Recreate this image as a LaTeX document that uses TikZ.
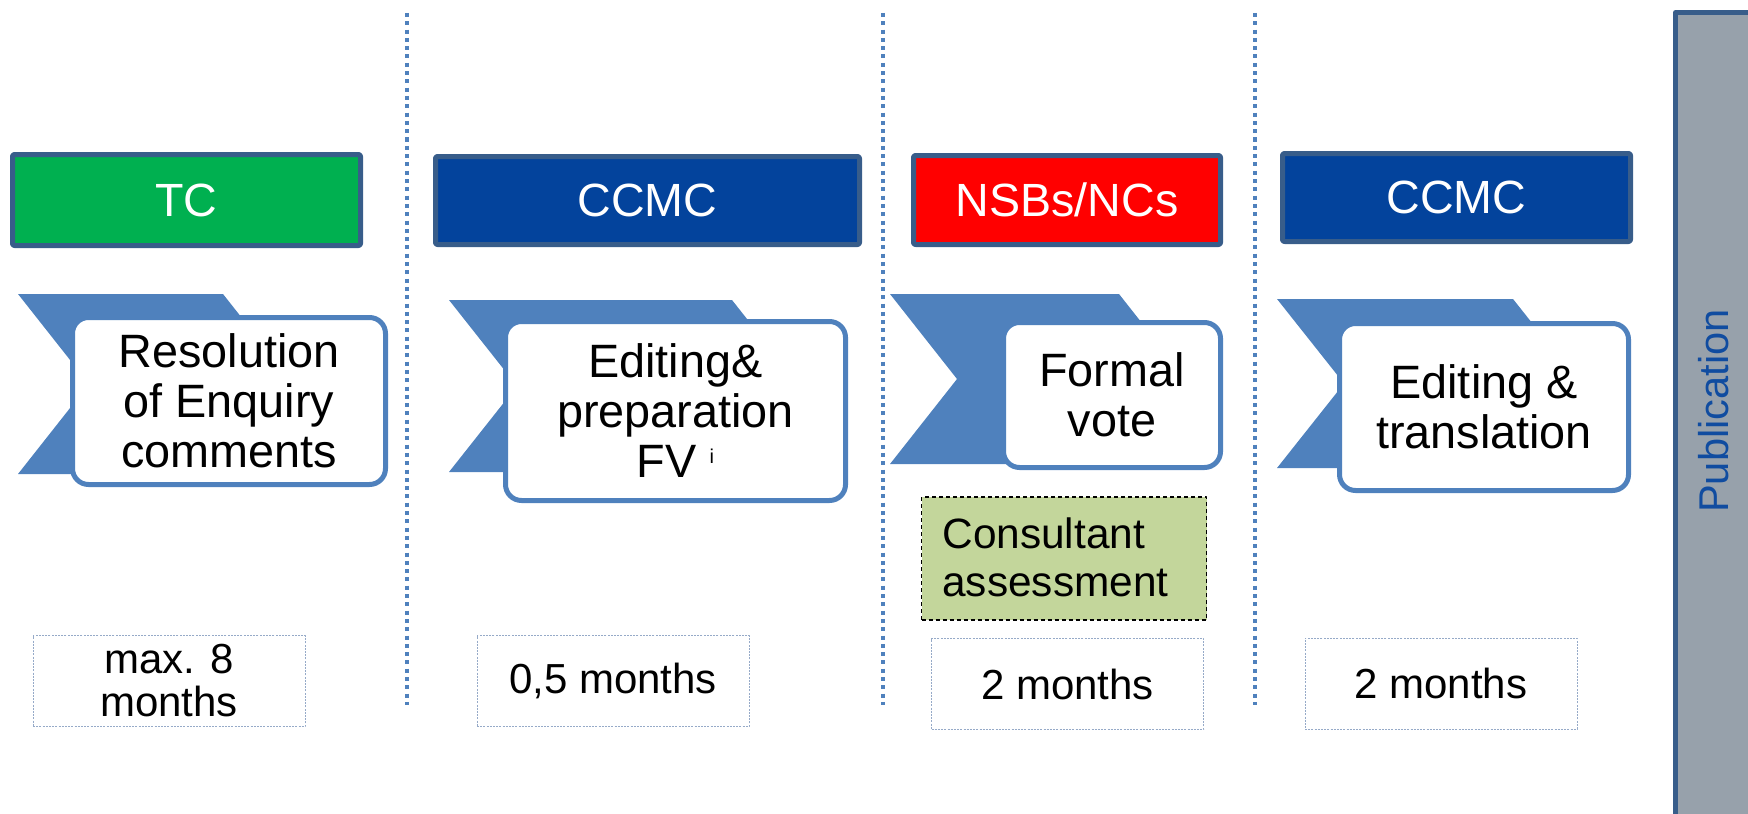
\documentclass[tikz,border=0pt]{standalone}
\usepackage{fontspec}
\setmainfont{Liberation Sans}
\definecolor{tcgreen}{RGB}{0,176,80}
\definecolor{ccmcblue}{RGB}{3,67,156}
\definecolor{nsbred}{RGB}{255,0,0}
\definecolor{hdrline}{RGB}{56,93,138}
\definecolor{chevblue}{RGB}{79,129,189}
\definecolor{consgreen}{RGB}{195,214,155}
\definecolor{pubgrey}{RGB}{151,161,171}
\definecolor{pubtext}{RGB}{16,76,160}
\definecolor{durline}{RGB}{150,170,200}
\tikzset{
hdrbox/.style={draw=hdrline, line width=2.5pt, rounded corners=1pt, inner sep=0pt,
  text=white, font=\fontsize{23.3}{25}\selectfont},
stepbox/.style={draw=chevblue, fill=white, line width=2.5pt, rounded corners=8pt,
  inner sep=0pt, align=center, font=\fontsize{23.4}{25}\selectfont},
durbox/.style={draw=durline, line width=0.5pt, dash pattern=on 1pt off 0.6pt,
  inner sep=0pt, align=center, font=\fontsize{21}{21.5}\selectfont},
sepline/.style={draw=chevblue, line width=2pt, dash pattern=on 2pt off 2.15pt},
}
\begin{document}
\begin{tikzpicture}
[x=0.5pt,y=-0.5pt,line join=round]
\useasboundingbox (0,0) rectangle (1748,813);
\clip (0,0) rectangle (1748,813);
% stage separators
\foreach \xx in {407,883,1255}{
\draw[sepline] (\xx,13) -- (\xx,705);
}
% who does it
\foreach \nm/\cx/\cy/\w/\h/\col/\txt in {
a/186.5/200/353/96/tcgreen/TC,
b/647.5/200.5/429/93/ccmcblue/CCMC,
c/1067/200/312/94/nsbred/{NSBs/NCs},
d/1456.5/197.5/353/93/ccmcblue/CCMC}{
\node[hdrbox, fill=\col, minimum width={(\w-5)*0.5pt},
  minimum height={(\h-5)*0.5pt}] (hdr\nm) at (\cx,\cy) {\txt};
}
% chevrons behind the steps
\foreach \xa/\yt/\yb/\xr/\ins in {
18/294/474/223/71,
449/300/472/732/68,
890/294/464/1119/67,
1277/299/468/1513/67}{
\fill[chevblue] (\xa,\yt) -- (\xr,\yt) -- ({\xr+\ins},{(\yt+\yb)/2})
  -- (\xr,\yb) -- (\xa,\yb) -- ({\xa+\ins},{(\yt+\yb)/2}) -- cycle;
}
% steps
\foreach \nm/\cx/\cy/\w/\h/\txt in {
a/229/401/318/172/{Resolution\\of Enquiry\\comments},
b/675.5/411/345/184/{Editing\&\\preparation\\FV \raisebox{7pt}{\fontsize{10}{10}\selectfont i}},
c/1112/395/222/150/{Formal\\vote},
d/1484/407/294/172/{Editing \&\\translation}}{
\node[stepbox, minimum width={(\w-5)*0.5pt},
  minimum height={(\h-5)*0.5pt}] (step\nm) at (\cx,\cy) {\txt};
}
% consultant
\node[draw=black, fill=consgreen, line width=0.75pt, dash pattern=on 2pt off 1.5pt,
  minimum width=142.5pt, minimum height=61.5pt, inner sep=0pt] (cons) at (1064,558.5) {};
\node[anchor=west, align=left, inner sep=0pt, font=\fontsize{21.2}{24}\selectfont]
  (constext) at (942,557) {Consultant\\assessment};
% durations
\foreach \nm/\cx/\cy/\txt in {
a/169/681/{max. 8\\months},
b/613/681/{0,5 months},
c/1067.5/684/{2 months},
d/1441/683.5/{2 months}}{
\node[durbox, minimum width=136pt, minimum height=45.5pt] (dur\nm) at (\cx,\cy) {\txt};
}
% publication
\draw[draw=hdrline, fill=pubgrey, line width=2.5pt] (1675.5,12.5) rectangle (1780,840);
\node[rotate=90, inner sep=0pt, text=pubtext, font=\fontsize{20.8}{22}\selectfont]
  (pub) at (1714,411) {Publication};
\end{tikzpicture}
\end{document}
